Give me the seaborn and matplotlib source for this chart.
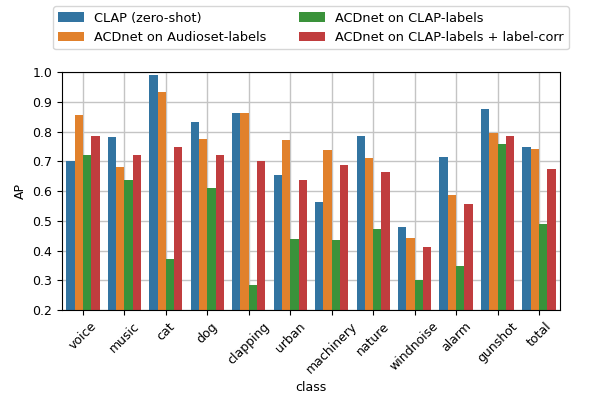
import pandas as pd
import seaborn as sns
import matplotlib.pyplot as plt

classes = ["voice", "music", "cat", "dog", "clapping", "urban", "machinery",
           "nature", "windnoise", "alarm", "gunshot", "total"]
models = ["CLAP (zero-shot)", "ACDnet on Audioset-labels",
          "ACDnet on CLAP-labels", "ACDnet on CLAP-labels + label-corr"]

clap_zs = [0.703, 0.783, 0.990, 0.832, 0.862, 0.655, 0.565, 0.785, 0.481, 0.716, 0.878, 0.750]
acd_audioset = [0.855, 0.680, 0.932, 0.776, 0.862, 0.773, 0.738, 0.710, 0.443, 0.587, 0.794, 0.741]
acd_clap = [0.720, 0.638, 0.373, 0.610, 0.283, 0.440, 0.437, 0.473, 0.300, 0.347, 0.757, 0.490]
acd_clap_corr = [0.787, 0.722, 0.750, 0.722, 0.700, 0.637, 0.688, 0.666, 0.413, 0.556, 0.787, 0.676]

rows = []
for name, vals in zip(models, [clap_zs, acd_audioset, acd_clap, acd_clap_corr]):
    for c, v in zip(classes, vals):
        rows.append({"class": c, "AP": v, "model": name})
df = pd.DataFrame(rows)

plt.rcParams["font.size"] = 9

fig, ax = plt.subplots(figsize=(5.98, 3.97), dpi=100)
sns.barplot(data=df, x="class", y="AP", hue="model", palette="tab10", ax=ax)
ax.set_ylim(0.2, 1.0)
ax.grid(True, color="#c4c4c4", linewidth=1)
ax.set_axisbelow(True)
plt.setp(ax.get_xticklabels(), rotation=45)
ax.legend(loc="lower center", bbox_to_anchor=(0.5, 1.07), ncol=2, fontsize=9.3,
          columnspacing=2.5)

fig.subplots_adjust(left=0.104, right=0.936, top=0.818, bottom=0.219)
fig.savefig("out.png")
